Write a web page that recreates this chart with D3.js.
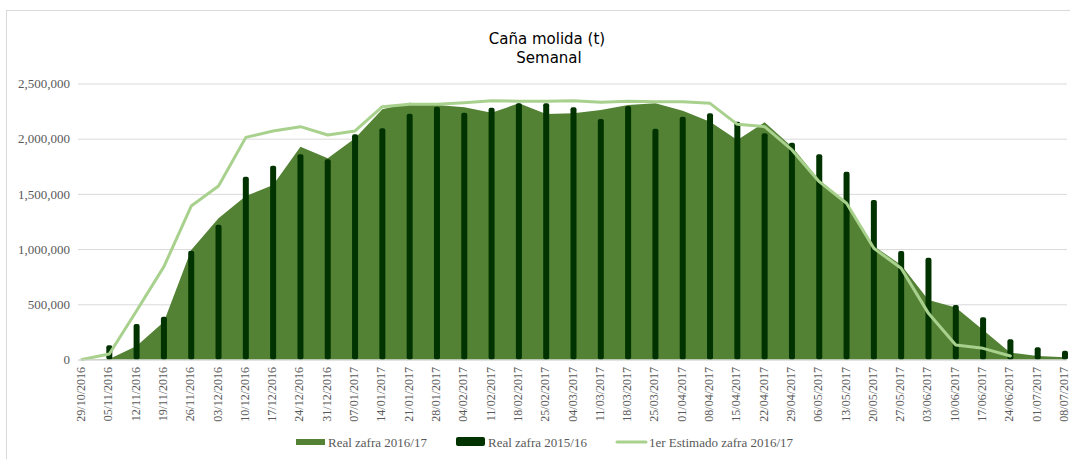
<!DOCTYPE html>
<html>
<head>
<meta charset="utf-8">
<script src="https://cdn.jsdelivr.net/npm/d3@7"></script>
<style>
  body { margin: 0; background: #fff; }
</style>
</head>
<body>
<div id="chart-container"></div>
<script>

// Data

var semanas = ["29/10/2016","05/11/2016","12/11/2016","19/11/2016","26/11/2016","03/12/2016",
  "10/12/2016","17/12/2016","24/12/2016","31/12/2016","07/01/2017","14/01/2017","21/01/2017",
  "28/01/2017","04/02/2017","11/02/2017","18/02/2017","25/02/2017","04/03/2017","11/03/2017",
  "18/03/2017","25/03/2017","01/04/2017","08/04/2017","15/04/2017","22/04/2017","29/04/2017",
  "06/05/2017","13/05/2017","20/05/2017","27/05/2017","03/06/2017","10/06/2017","17/06/2017",
  "24/06/2017","01/07/2017","08/07/2017"];

var real1617 = [0, 5000, 122000, 343000, 992000, 1279000, 1481000, 1581000, 1928000, 1822000,
  2004000, 2266000, 2326000, 2305000, 2284000, 2236000, 2320000, 2224000, 2230000, 2260000,
  2305000, 2320000, 2254000, 2154000, 1988000, 2148000, 1928000, 1626000, 1420000, 1028000,
  856000, 539000, 472000, 267000, 62000, 32000, 20000];

var real1516 = [0, 128000, 321000, 388000, 985000, 1221000, 1656000, 1755000, 1859000, 1813000,
  2040000, 2094000, 2227000, 2290000, 2236000, 2281000, 2320000, 2320000, 2284000, 2178000,
  2296000, 2091000, 2199000, 2230000, 2154000, 2049000, 1964000, 1859000, 1701000, 1445000,
  983000, 922000, 494000, 382000, 183000, 110000, 80000];

var estimado1617 = [0, 50000, 442000, 841000, 1390000, 1572000, 2012000, 2070000, 2109000, 2034000,
  2070000, 2290000, 2311000, 2311000, 2326000, 2344000, 2340000, 2340000, 2344000, 2330000,
  2340000, 2335000, 2335000, 2320000, 2130000, 2109000, 1898000, 1611000, 1415000, 1007000,
  826000, 418000, 131000, 101000, 32000, null, null];

var yTicks = [0, 500000, 1000000, 1500000, 2000000, 2500000];

var seriesNames = ["Real zafra 2016/17", "Real zafra 2015/16", "1er Estimado zafra 2016/17"];
var seriesColors = ["#548235", "#003300", "#a9d18e"];

// Setup

var width = 1070;
var height = 459;

var svg = d3.select("#chart-container").append("svg")
    .attr("width", width)
    .attr("height", height);

// chart border (only top and left edges are visible in the frame)
svg.append("rect")
    .attr("x", 6.5).attr("y", 10.5)
    .attr("width", 1100).attr("height", 500)
    .style("fill", "none").style("stroke", "#d9d9d9");

var x = d3.scalePoint()
    .domain(semanas)
    .range([82, 1065]);

var y = d3.scaleLinear()
    .domain([0, 2500000])
    .range([359.5, 83.5]);

// Title

svg.append("text")
    .attr("x", 547).attr("y", 44)
    .attr("text-anchor", "middle")
    .style("font-family", "'DejaVu Sans', sans-serif")
    .style("font-size", "15px")
    .style("fill", "#000")
    .text("Caña molida (t)");

svg.append("text")
    .attr("x", 549).attr("y", 63)
    .attr("text-anchor", "middle")
    .style("font-family", "'DejaVu Sans', sans-serif")
    .style("font-size", "15px")
    .style("fill", "#000")
    .text("Semanal");

// Gridlines + y labels

var yAxis = d3.axisLeft(y)
    .tickValues(yTicks)
    .tickSize(-(1067 - 78))
    .tickPadding(8)
    .tickFormat(d3.format(","));

var gy = svg.append("g")
    .attr("transform", "translate(78,0)")
    .call(yAxis);

gy.select(".domain").remove();
gy.selectAll(".tick line").style("stroke", "#d9d9d9");
gy.selectAll(".tick text")
    .style("font-family", "'Liberation Serif', serif")
    .style("font-size", "13px")
    .style("fill", "#595959");

// Area (Real zafra 2016/17)

var area = d3.area()
    .x(function(d, i) { return x(semanas[i]); })
    .y0(y(0))
    .y1(function(d) { return y(d); });

svg.append("path")
    .attr("d", area(real1617))
    .style("fill", seriesColors[0]);

// Bars (Real zafra 2015/16)

svg.append("g").selectAll("rect")
    .data(real1516)
    .join("rect")
    .attr("x", function(d, i) { return x(semanas[i]) - 3; })
    .attr("y", function(d) { return y(d); })
    .attr("width", 6)
    .attr("height", function(d) { return Math.max(0, y(0) - y(d)); })
    .attr("rx", 2)
    .style("fill", seriesColors[1]);

// Line (1er Estimado zafra 2016/17)

var line = d3.line()
    .defined(function(d) { return d !== null; })
    .x(function(d, i) { return x(semanas[i]); })
    .y(function(d) { return y(d); });

svg.append("path")
    .attr("d", line(estimado1617))
    .style("fill", "none")
    .style("stroke", seriesColors[2])
    .style("stroke-width", 3)
    .style("stroke-linejoin", "round")
    .style("stroke-linecap", "round");

// X axis line and labels

svg.append("line")
    .attr("x1", 78).attr("x2", 1067)
    .attr("y1", 360).attr("y2", 360)
    .style("stroke", "#d9d9d9");

svg.append("g").selectAll("text")
    .data(semanas)
    .join("text")
    .attr("transform", function(d) { return "translate(" + (x(d) + 3) + ",367) rotate(-90)"; })
    .attr("text-anchor", "end")
    .style("font-family", "'Liberation Serif', serif")
    .style("font-size", "12px")
    .style("fill", "#595959")
    .text(function(d) { return d; });

// Legend

var legendX = [296, 456, 617];

var legend = svg.append("g").selectAll("g")
    .data(seriesNames)
    .join("g")
    .attr("transform", function(d, i) { return "translate(" + legendX[i] + ",442)"; });

legend.each(function(d, i) {
  var g = d3.select(this);
  if (i < 2) {
    g.append("rect")
        .attr("x", 0).attr("y", i == 0 ? -3 : -5)
        .attr("width", 29).attr("height", i == 0 ? 6 : 9)
        .attr("rx", i == 0 ? 0 : 2)
        .style("fill", seriesColors[i]);
  } else {
    g.append("line")
        .attr("x1", 0).attr("x2", 29)
        .attr("y1", 0).attr("y2", 0)
        .style("stroke", seriesColors[i])
        .style("stroke-width", 3)
        .style("stroke-linecap", "round");
  }
  g.append("text")
      .attr("x", 32).attr("y", 4.5)
      .style("font-family", "'Liberation Serif', serif")
      .style("font-size", "13px")
      .style("fill", "#595959")
      .text(d);
});

</script>
</body>
</html>
